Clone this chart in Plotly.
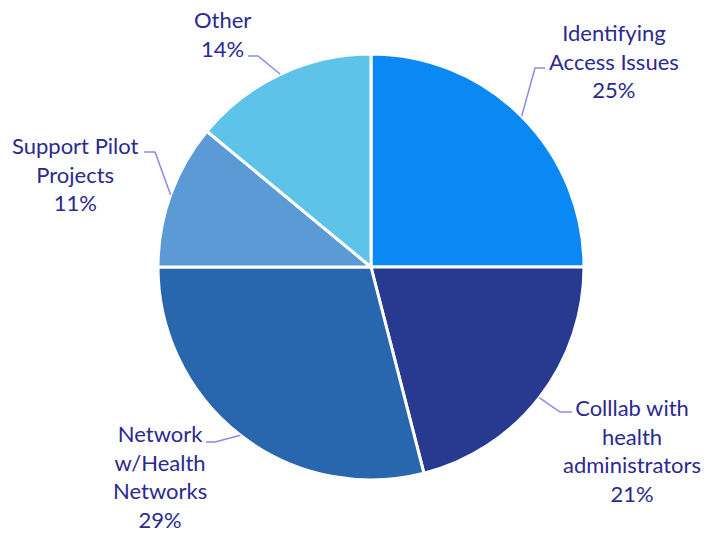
import math
import plotly.graph_objects as go

labels = ["Identifying<br>Access Issues", "Colllab with<br>health<br>administrators",
          "Network<br>w/Health<br>Networks", "Support Pilot<br>Projects", "Other"]
values = [25, 21, 29, 11, 14]
colors = ["#0A89F5", "#283A8F", "#2866AD", "#5B9AD4", "#5EC3E8"]

# layout: label block centers and leader elbow/end points (pixels)
label_pos = [(614, 61), (632, 450), (160, 476), (75, 174), (222, 34)]
elbows = [((535, 68), (545, 68)), ((560, 412), (572, 412)), ((215, 442), (206, 442)),
          ((155, 152), (144, 152)), ((258, 56), (248, 56))]

W, H = 704, 534
ML, MR, MT, MB = 158, 120, 54, 54
PW = W - ML - MR
PH = H - MT - MB
CX, CY, R = ML + PW / 2, MT + PH / 2, PW / 2


def px(x):
    return (x - ML) / PW


def py(y):
    return (H - MB - y) / PH


fig = go.Figure(go.Pie(
    labels=labels, values=values, sort=False, direction="clockwise", rotation=0,
    marker=dict(colors=colors, line=dict(color="white", width=3)),
    textinfo="none", hoverinfo="label+percent", showlegend=False,
))

total = sum(values)
cum = 0
annotations = []
shapes = []
for lab, v, (lx, ly), (e1, e2) in zip(labels, values, label_pos, elbows):
    mid = (cum + v / 2) / total * 2 * math.pi
    cum += v
    sx = CX + R * math.sin(mid)
    sy = CY - R * math.cos(mid)
    pct = round(v / total * 100)
    annotations.append(dict(
        x=px(lx), y=py(ly), xref="paper", yref="paper", showarrow=False,
        xanchor="center", yanchor="middle", align="center",
        text=f"{lab}<br>{pct}%",
        font=dict(family="Lato", size=22, color="#2B2A8E"),
    ))
    shapes.append(dict(
        type="path", xref="paper", yref="paper",
        path=f"M {px(sx)} {py(sy)} L {px(e1[0])} {py(e1[1])} L {px(e2[0])} {py(e2[1])}",
        line=dict(color="#8A8AE6", width=1.5),
    ))

fig.update_layout(
    width=W, height=H, margin=dict(l=ML, r=MR, t=MT, b=MB),
    paper_bgcolor="white", plot_bgcolor="white",
    annotations=annotations, shapes=shapes,
)
fig.write_html("out.html")
